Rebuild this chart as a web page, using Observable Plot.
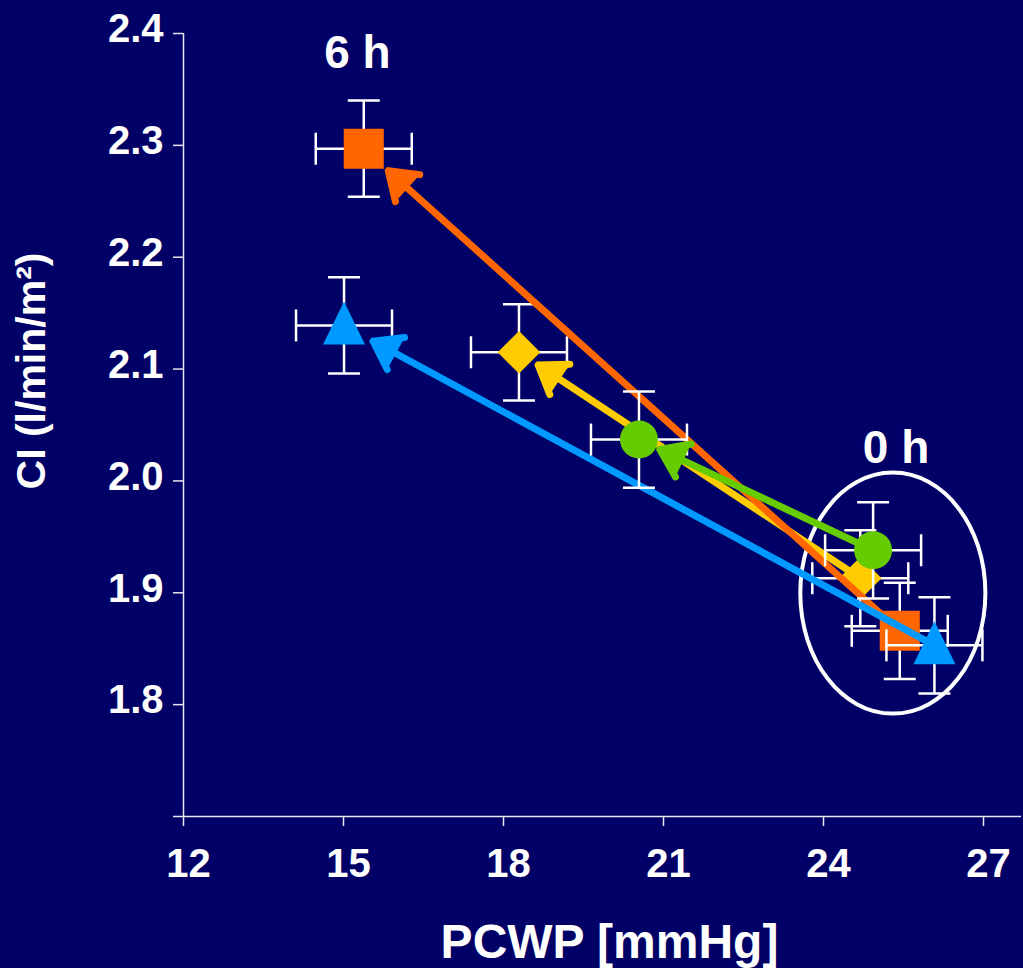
<!DOCTYPE html>
<html>
<head>
<meta charset="utf-8">
<script src="https://cdn.jsdelivr.net/npm/d3@7"></script>
<script src="https://cdn.jsdelivr.net/npm/@observablehq/plot@0.6"></script>
<style>
  html, body { margin: 0; padding: 0; background: #000066; }
  #chart svg { display: block; }
</style>
</head>
<body>
<div id="chart"></div>
<script>
// ---------------- data ----------------
// groups in drawing order (back to front)
const groups = ["A", "B", "C", "D"];
// 0 h values (PCWP mmHg, CI l/min/m²)
const pcwp0h = [24.69, 25.43, 26.08, 24.93];
const ci0h   = [1.913, 1.866, 1.853, 1.938];
// values after treatment (6 h / follow-up)
const pcwpEnd = [18.29, 15.38, 15.01, 20.54];
const ciEnd   = [2.115, 2.297, 2.139, 2.037];
// error bars (±)
const pcwpErr0h  = [0.9, 0.9, 0.9, 0.9];
const ciErr0h    = [0.043, 0.043, 0.043, 0.043];
const pcwpErrEnd = [0.9, 0.9, 0.9, 0.9];
const ciErrEnd   = [0.043, 0.043, 0.043, 0.043];
// axes
const xTicks = [12, 15, 18, 21, 24, 27];
const yTicks = [1.8, 1.9, 2.0, 2.1, 2.2, 2.3, 2.4];
const xDomain = [12, 27];
const yDomain = [1.7, 2.4];
// annotations
const annotLabels = ["6 h", "0 h"];
const annotX = [15.26, 25.36];
const annotY = [2.3827, 2.029];
const clusterX = [25.30];
const clusterY = [1.8997];

// ---------------- styles ----------------
const triangleSym = {
  draw(ctx, size) {
    const r = Math.sqrt(size / Math.PI);
    ctx.moveTo(0, -1.2 * r);
    ctx.lineTo(1.05 * r, 0.95 * r);
    ctx.lineTo(-1.05 * r, 0.95 * r);
    ctx.closePath();
  }
};
const hcap = { draw(ctx, size) { const r = Math.sqrt(size / Math.PI); ctx.moveTo(-r, 0); ctx.lineTo(r, 0); } };
const vcap = { draw(ctx, size) { const r = Math.sqrt(size / Math.PI); ctx.moveTo(0, -r); ctx.lineTo(0, r); } };
const ellipseSym = {
  draw(ctx, size) {
    const ry = Math.sqrt(size / Math.PI), rx = ry * 0.768, k = 0.5523;
    ctx.moveTo(rx, 0);
    ctx.bezierCurveTo(rx, k * ry, k * rx, ry, 0, ry);
    ctx.bezierCurveTo(-k * rx, ry, -rx, k * ry, -rx, 0);
    ctx.bezierCurveTo(-rx, -k * ry, -k * rx, -ry, 0, -ry);
    ctx.bezierCurveTo(k * rx, -ry, rx, -k * ry, rx, 0);
    ctx.closePath();
  }
};
const style = {
  A: { color: "#FFCC00", symbol: "diamond2", r: 19.2, inset: 23 },
  B: { color: "#FF6600", symbol: "square", r: 22.6, inset: 33 },
  C: { color: "#0099FF", symbol: triangleSym, r: 20, inset: 33 },
  D: { color: "#66CC00", symbol: "circle", r: 19, inset: 23 }
};
const axisColor = "#e6e6f0";
const errStyle = { stroke: "white", strokeWidth: 2.5 };

// ---------------- tables ----------------
const points = groups.flatMap((g, i) => [
  { group: g, x: pcwp0h[i], y: ci0h[i], ex: pcwpErr0h[i], ey: ciErr0h[i] },
  { group: g, x: pcwpEnd[i], y: ciEnd[i], ex: pcwpErrEnd[i], ey: ciErrEnd[i] }
]);
const arrows = groups.map((g, i) => ({ group: g, x1: pcwp0h[i], y1: ci0h[i], x2: pcwpEnd[i], y2: ciEnd[i] }));
const annots = annotLabels.map((t, i) => ({ text: t, x: annotX[i], y: annotY[i] }));
const cluster = clusterX.map((x, i) => ({ x, y: clusterY[i] }));

// ---------------- marks ----------------
const marks = [
  Plot.ruleY([yDomain[0]], { stroke: axisColor, strokeWidth: 1.5, insetLeft: -10, insetRight: -38 }),
  Plot.ruleX([xDomain[0]], { stroke: axisColor, strokeWidth: 1.5 }),
  Plot.axisX(xTicks, { tickSize: 10, stroke: axisColor, strokeWidth: 1.5, fill: "none", label: null }),
  Plot.axisX(xTicks, { tickSize: 0, tickPadding: 32, dx: 5, fontSize: 40, fontWeight: "bold", fill: "white", label: null }),
  Plot.axisY(yTicks, { tickSize: 10, stroke: axisColor, strokeWidth: 1.5, fill: "none", label: null }),
  Plot.axisY(yTicks, { tickSize: 0, tickPadding: 20, dy: -4, fontSize: 40, fontWeight: "bold", fill: "white", tickFormat: ".1f", label: null }),
  Plot.text(["PCWP [mmHg]"], { text: d => d, frameAnchor: "bottom", textAnchor: "middle", dx: 26, dy: 126, lineAnchor: "middle", fontSize: 48, fontWeight: "bold", fill: "white" }),
  Plot.text(["CI (l/min/m²)"], { text: d => d, frameAnchor: "left", textAnchor: "middle", rotate: -90, dx: -152, dy: -54, lineAnchor: "middle", fontSize: 41, fontWeight: "bold", fill: "white" }),
  Plot.dot(cluster, { x: "x", y: "y", r: 120.5, symbol: ellipseSym, fill: "none", stroke: "white", strokeWidth: 4 }),
  Plot.text(annots, { x: "x", y: "y", text: "text", lineAnchor: "middle", fontSize: 46, fontWeight: "bold", fill: "white" })
];

for (const g of groups) {
  const s = style[g];
  const pts = points.filter(d => d.group === g);
  const arr = arrows.filter(d => d.group === g);
  marks.push(
    Plot.ruleY(pts, { y: "y", x1: d => d.x - d.ex, x2: d => d.x + d.ex, ...errStyle }),
    Plot.ruleX(pts, { x: "x", y1: d => d.y - d.ey, y2: d => d.y + d.ey, ...errStyle }),
    Plot.dot(pts, { x: d => d.x - d.ex, y: "y", symbol: vcap, r: 16, fill: "none", ...errStyle }),
    Plot.dot(pts, { x: d => d.x + d.ex, y: "y", symbol: vcap, r: 16, fill: "none", ...errStyle }),
    Plot.dot(pts, { x: "x", y: d => d.y - d.ey, symbol: hcap, r: 16, fill: "none", ...errStyle }),
    Plot.dot(pts, { x: "x", y: d => d.y + d.ey, symbol: hcap, r: 16, fill: "none", ...errStyle }),
    Plot.arrow(arr, { x1: "x1", y1: "y1", x2: "x2", y2: "y2", stroke: s.color, fill: s.color, strokeWidth: 7, headLength: 6.8, headAngle: 70, insetEnd: s.inset }),
    Plot.dot(pts, { x: "x", y: "y", symbol: s.symbol, r: s.r, fill: s.color, stroke: "none" })
  );
}

const chart = Plot.plot({
  width: 1023,
  height: 968,
  marginLeft: 183,
  marginRight: 40,
  marginTop: 33,
  marginBottom: 152,
  x: { domain: xDomain },
  y: { domain: yDomain },
  style: { background: "#000066", color: "white", fontFamily: "'Liberation Sans', Arial, sans-serif", fontWeight: "bold", overflow: "visible" },
  marks
});
document.getElementById("chart").appendChild(chart);
</script>
</body>
</html>
